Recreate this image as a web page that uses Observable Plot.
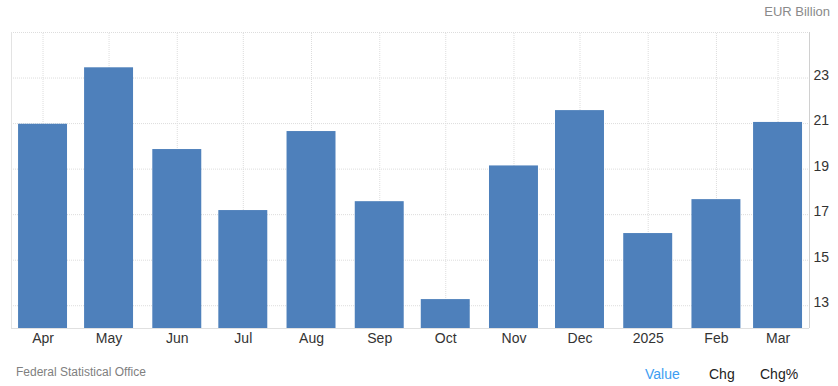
<!DOCTYPE html>
<html>
<head>
<meta charset="utf-8">
<script src="https://cdn.jsdelivr.net/npm/d3@7"></script>
<script src="https://cdn.jsdelivr.net/npm/@observablehq/plot@0.6"></script>
<style>
  html, body { margin: 0; padding: 0; background: #fff; }
  body { width: 838px; height: 386px; position: relative; overflow: hidden; font-family: "Liberation Sans", Arial, sans-serif; }
  #chart { position: absolute; left: 0; top: 0; }
  .unit { position: absolute; right: 8px; top: 4px; font-size: 13px; color: #8a8a8a; }
  .source { position: absolute; left: 16px; top: 365px; font-size: 12px; color: #808080; }
  .tabs { position: absolute; top: 366px; font-size: 14px; color: #222; }
</style>
</head>
<body>
<div class="unit">EUR Billion</div>
<div id="chart"></div>
<div class="source">Federal Statistical Office</div>
<div class="tabs" style="left:645px;color:#3d9df2">Value</div>
<div class="tabs" style="left:709px">Chg</div>
<div class="tabs" style="left:760px">Chg%</div>
<script>
// Data (monthly, EUR billion)
const months = ["2024-04-01","2024-05-01","2024-06-01","2024-07-01","2024-08-01","2024-09-01",
                "2024-10-01","2024-11-01","2024-12-01","2025-01-01","2025-02-01","2025-03-01"];
const values = [20.97, 23.45, 19.86, 17.18, 20.65, 17.57, 13.27, 19.14, 21.57, 16.17, 17.66, 21.05];
const monthLabels = ["Jan","Feb","Mar","Apr","May","Jun","Jul","Aug","Sep","Oct","Nov","Dec"];
const yTicks = [13, 15, 17, 19, 21, 23];
const gridY = [13, 15, 17, 19, 21, 23, 25];
const yDomain = [12, 25];

const dates = months.map(s => new Date(s + "T00:00:00Z"));
const data = dates.map((d, i) => ({date: d, value: values[i]}));

const xMin = d3.utcHour.offset(dates[0], -343.5);
const xMax = d3.utcHour.offset(dates[dates.length - 1], 343.5);
const halfBar = 267; // hours

const fmt = d => d.getUTCMonth() === 0 ? String(d.getUTCFullYear()) : monthLabels[d.getUTCMonth()];

const chart = Plot.plot({
  width: 838,
  height: 386,
  marginTop: 32,
  marginBottom: 58,
  marginLeft: 11,
  marginRight: 29,
  style: {fontFamily: "'Liberation Sans', Arial, sans-serif", fontSize: "14px", color: "#333", background: "transparent"},
  x: {type: "utc", domain: [xMin, xMax]},
  y: {domain: yDomain},
  marks: [
    Plot.ruleY(gridY, {stroke: "#dddddd", strokeDasharray: "1,1", strokeWidth: 1}),
    Plot.ruleX(dates, {y1: yDomain[0], y2: yDomain[1], stroke: "#dddddd", strokeDasharray: "1,1", strokeWidth: 1}),
    Plot.rectY(data, {
      x1: d => d3.utcHour.offset(d.date, -halfBar),
      x2: d => d3.utcHour.offset(d.date, halfBar),
      y1: yDomain[0],
      y2: "value",
      fill: "#4e80bb"
    }),
    Plot.ruleX([xMin], {y1: yDomain[0], y2: yDomain[1], stroke: "#e3e3e3"}),
    Plot.ruleX([xMax], {y1: yDomain[0], y2: yDomain[1], stroke: "#d0d0d0"}),
    Plot.ruleY([yDomain[0]], {stroke: "#e0e0e0"}),
    Plot.axisY({anchor: "right", ticks: yTicks, tickSize: 0, tickPadding: 4, dy: -3, fill: "#333", fontSize: 14, label: null}),
    Plot.axisX({anchor: "bottom", ticks: dates, tickFormat: fmt, tickSize: 0, tickPadding: 5, fill: "#333", fontSize: 14, label: null})
  ]
});
document.getElementById("chart").appendChild(chart);
</script>
</body>
</html>
